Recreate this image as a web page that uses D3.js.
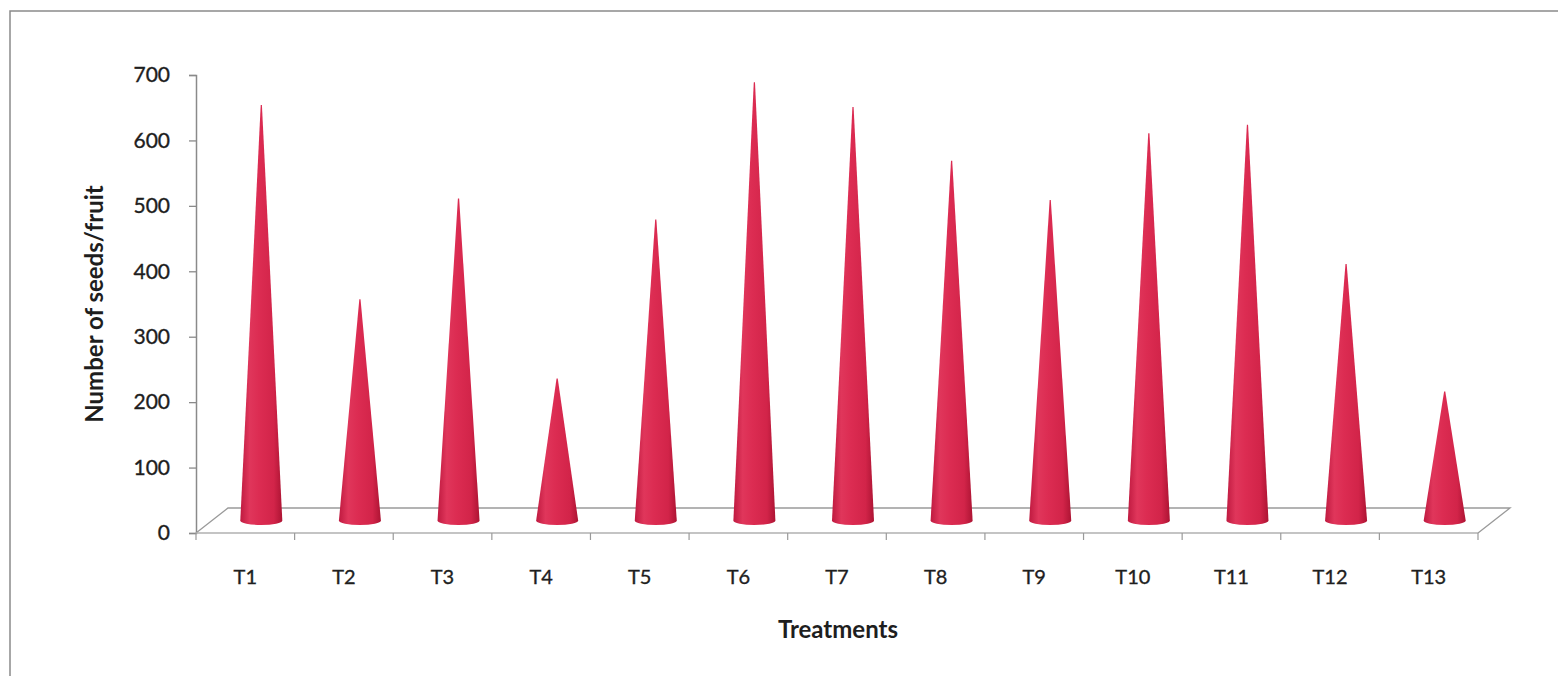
<!DOCTYPE html>
<html>
<head>
<meta charset="utf-8">
<script src="https://cdn.jsdelivr.net/npm/d3@7"></script>
<style>
  html, body { margin: 0; padding: 0; background: #fff; }
  svg { display: block; }
  text { font-family: Lato, "Open Sans", sans-serif; fill: #1e1e1e; }
</style>
</head>
<body>
<svg id="chart" width="1558" height="676"></svg>
<script>
// Treatments and mean number of seeds per fruit
const treatments = ["T1","T2","T3","T4","T5","T6","T7","T8","T9","T10","T11","T12","T13"];
const seedsPerFruit = [635, 338, 492, 217, 460, 670, 632, 550, 490, 592, 605, 392, 197];
const yTicks = [0, 100, 200, 300, 400, 500, 600, 700];
const yTitle = "Number of seeds/fruit";
const xTitle = "Treatments";

const svg = d3.select("#chart");

const plot = { left: 196, right: 1478, top: 75, bottom: 533 };
const depth = { dx: 32, dy: -25 };        // floor depth (perspective offset)

const x = d3.scaleBand().domain(treatments).range([plot.left, plot.right]).padding(0);
const y = d3.scaleLinear().domain([0, 700]).range([plot.bottom, plot.top]);

// outer frame
svg.append("path")
  .attr("d", "M10,676 V11 H1558")
  .attr("fill", "none").attr("stroke", "#8a8a8a").attr("stroke-width", 1.5);

// cone shading
const defs = svg.append("defs");
const grad = defs.append("linearGradient").attr("id", "coneFill")
  .attr("x1", "0%").attr("x2", "100%").attr("y1", "0%").attr("y2", "0%");
[["0%", "#bf1a40"], ["22%", "#e0365b"], ["45%", "#dc2c52"], ["80%", "#d22449"], ["100%", "#ad1433"]]
  .forEach(([o, c]) => grad.append("stop").attr("offset", o).attr("stop-color", c));

// floor
const f0 = y(0);
svg.append("path")
  .attr("d", `M${plot.left},${f0} L${plot.left + depth.dx},${f0 + depth.dy} L${plot.right + depth.dx},${f0 + depth.dy} L${plot.right},${f0}`)
  .attr("fill", "none").attr("stroke", "#9a9a9a").attr("stroke-width", 1.3);

// y axis
const yAxis = svg.append("g")
  .attr("transform", `translate(${plot.left},0)`)
  .call(d3.axisLeft(y).tickValues(yTicks).tickSize(7).tickPadding(19).tickFormat(d3.format("d")));
yAxis.select(".domain").attr("stroke", "#8a8a8a").attr("stroke-width", 1.5);
yAxis.selectAll(".tick line").attr("stroke", "#8a8a8a").attr("stroke-width", 1.3);
yAxis.selectAll(".tick text")
  .style("font-family", "Lato, 'Open Sans', sans-serif")
  .style("font-size", "21px").attr("fill", "#1e1e1e")
  .attr("stroke", "#1e1e1e").attr("stroke-width", 0.35);

// x axis: front floor edge with category boundary ticks
const xAxis = svg.append("g").attr("transform", `translate(0,${f0})`);
xAxis.append("line")
  .attr("x1", plot.left).attr("x2", plot.right)
  .attr("stroke", "#b0b0b0").attr("stroke-width", 1.5);
const bounds = treatments.map(t => x(t)).concat([plot.right]);
xAxis.selectAll("line.tk").data(bounds).enter().append("line")
  .attr("class", "tk")
  .attr("x1", d => d).attr("x2", d => d)
  .attr("y1", 0).attr("y2", 7)
  .attr("stroke", "#9a9a9a").attr("stroke-width", 1.2);
xAxis.selectAll("text").data(treatments).enter().append("text")
  .attr("x", d => x(d) + x.bandwidth() / 2)
  .attr("y", 51)
  .attr("text-anchor", "middle")
  .attr("stroke", "#1e1e1e").attr("stroke-width", 0.35)
  .style("font-size", "20px")
  .text(d => d);

// cones, set halfway into the floor depth
const rx = 21, ry = 4.5;
const cones = treatments.map((t, i) => ({ t, v: seedsPerFruit[i] }));
svg.append("g").selectAll("path").data(cones).enter().append("path")
  .attr("d", d => {
    const cx = x(d.t) + x.bandwidth() / 2 + depth.dx / 2;
    const by = y(0) + depth.dy / 2;
    const tip = y(d.v) + depth.dy / 2;
    return `M${cx - rx},${by} L${cx - 0.6},${tip} L${cx + 0.6},${tip} L${cx + rx},${by} A${rx},${ry} 0 0 1 ${cx - rx},${by} Z`;
  })
  .attr("fill", "url(#coneFill)");

// axis titles
svg.append("text")
  .attr("transform", `translate(103,${(plot.top + plot.bottom) / 2}) rotate(-90)`)
  .attr("text-anchor", "middle")
  .style("font-size", "24px").style("font-weight", "700")
  .text(yTitle);

svg.append("text")
  .attr("x", 838).attr("y", 638)
  .attr("text-anchor", "middle")
  .style("font-size", "24px").style("font-weight", "700")
  .text(xTitle);
</script>
</body>
</html>
